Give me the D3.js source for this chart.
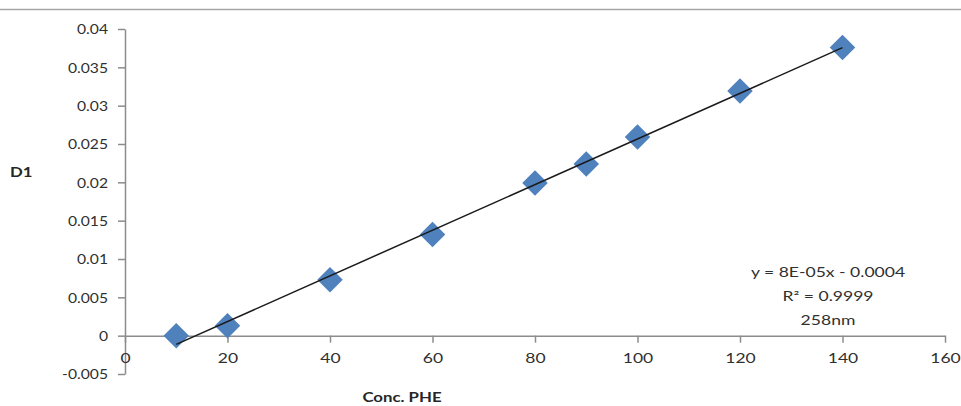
<!DOCTYPE html>
<html>
<head>
<meta charset="utf-8">
<script src="https://cdn.jsdelivr.net/npm/d3@7"></script>
<style>
  html, body { margin: 0; padding: 0; background: #fff; }
  svg { display: block; }
  text { font-family: Lato, "Open Sans", sans-serif; }
</style>
</head>
<body>
<svg id="chart" width="961" height="406"></svg>
<script>
// ---- data ----
const concentrations = [10, 20, 40, 60, 80, 90, 100, 120, 140];
const d1Values = [0.0000, 0.0013, 0.0073, 0.0132, 0.0199, 0.0224, 0.0259, 0.0319, 0.0376];
const xTicks = [0, 20, 40, 60, 80, 100, 120, 140, 160];
const yTicks = [-0.005, 0, 0.005, 0.01, 0.015, 0.02, 0.025, 0.03, 0.035, 0.04];
const yTickLabels = ["-0.005", "0", "0.005", "0.01", "0.015", "0.02", "0.025", "0.03", "0.035", "0.04"];
const annotationLines = ["y = 8E-05x - 0.0004", "R² = 0.9999", "258nm"];
const xTitle = "Conc. PHE";
const yTitle = "D1";

// ---- layout ----
const svg = d3.select("#chart");
const W = 961, H = 406;
const x = d3.scaleLinear().domain([0, 160]).range([125, 945]);
const y = d3.scaleLinear().domain([-0.005, 0.04]).range([374, 29]);
const axisColor = "#8c8c8c";
const textColor = "#303030";
const stretch = 1.25;

// top border line
svg.append("line").attr("x1", 0).attr("x2", W).attr("y1", 9.5).attr("y2", 9.5)
  .attr("stroke", "#a6a6a6").attr("stroke-width", 1.5);

// Y axis
const yAxis = svg.append("g").attr("transform", `translate(${x(0)},0)`)
  .call(d3.axisLeft(y).tickValues(yTicks).tickSize(7).tickSizeOuter(0)
    .tickFormat((d, i) => yTickLabels[i]));
yAxis.select(".domain").attr("stroke", axisColor).attr("stroke-width", 1.5);
yAxis.selectAll(".tick line").attr("stroke", axisColor).attr("stroke-width", 1.5);
yAxis.selectAll(".tick text").attr("fill", textColor).attr("font-size", 14)
  .attr("font-family", "Lato, 'Open Sans', sans-serif")
  .attr("x", 0).attr("y", 0).attr("dy", "0.34em")
  .attr("transform", "translate(-17,0) scale(1.12,1)");

// X axis at y = 0
const xAxis = svg.append("g").attr("transform", `translate(0,${y(0)})`)
  .call(d3.axisBottom(x).tickValues(xTicks).tickSize(7).tickSizeOuter(0).tickFormat(d3.format("d")));
xAxis.select(".domain").attr("stroke", axisColor).attr("stroke-width", 1.5);
xAxis.selectAll(".tick line").attr("stroke", axisColor).attr("stroke-width", 1.5);
xAxis.selectAll(".tick text").attr("fill", textColor).attr("font-size", 14)
  .attr("font-family", "Lato, 'Open Sans', sans-serif")
  .attr("x", 0).attr("y", 0).attr("dy", "0.34em")
  .attr("transform", `translate(0,23) scale(${stretch},1)`);

// linear trendline (least squares)
const n = concentrations.length;
const mx = d3.mean(concentrations), my = d3.mean(d1Values);
let sxy = 0, sxx = 0;
for (let i = 0; i < n; i++) {
  sxy += (concentrations[i] - mx) * (d1Values[i] - my);
  sxx += (concentrations[i] - mx) ** 2;
}
const slope = sxy / sxx, intercept = my - slope * mx;
const xMin = d3.min(concentrations), xMax = d3.max(concentrations);

// markers
const side = 18;
svg.append("g").selectAll("rect").data(concentrations).join("rect")
  .attr("x", -side / 2).attr("y", -side / 2).attr("width", side).attr("height", side)
  .attr("transform", (d, i) => `translate(${x(d)},${y(d1Values[i])}) rotate(45)`)
  .attr("fill", "#4f81bd");

svg.append("line")
  .attr("x1", x(xMin)).attr("y1", y(slope * xMin + intercept))
  .attr("x2", x(xMax)).attr("y2", y(slope * xMax + intercept))
  .attr("stroke", "#1a1a1a").attr("stroke-width", 1.5);

// annotation
svg.append("g").selectAll("text").data(annotationLines).join("text")
  .attr("transform", (d, i) => `translate(828,${277 + i * 24}) scale(1.35,1)`)
  .attr("text-anchor", "middle").attr("font-size", 13).attr("fill", textColor)
  .text(d => d);

// axis titles
svg.append("text").attr("transform", "translate(10,177) scale(1.2,1)").attr("font-size", 14)
  .attr("font-weight", "bold").attr("fill", "#262626").text(yTitle);
svg.append("text").attr("transform", "translate(402,402) scale(1.2,1)").attr("text-anchor", "middle")
  .attr("font-size", 14).attr("font-weight", "bold").attr("fill", "#262626").text(xTitle);
</script>
</body>
</html>
